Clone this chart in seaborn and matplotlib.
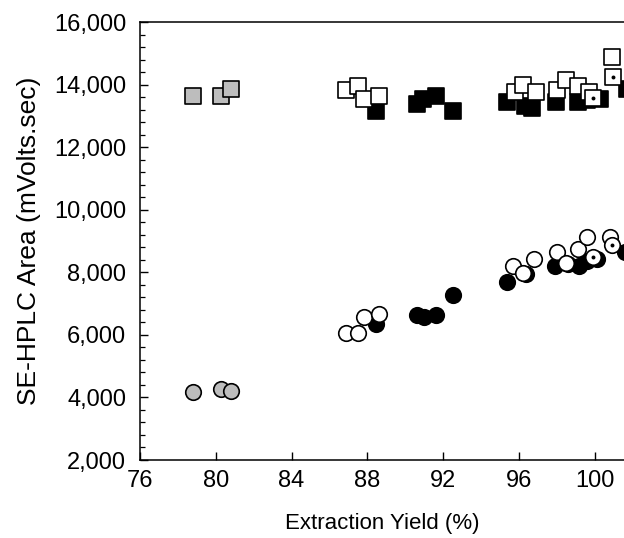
import matplotlib
matplotlib.use("Agg")
import matplotlib.pyplot as plt
from matplotlib.ticker import MultipleLocator, FuncFormatter
import seaborn as sns
import pandas as pd

# ---- data ----
gray_x = [78.8, 80.3, 80.8]
gray_sq = [13650, 13620, 13860]
gray_ci = [4180, 4270, 4210]

white_sq_x = [86.9, 87.5, 87.8, 88.6, 95.8, 96.2, 96.9, 98.0, 98.5, 99.1, 99.7, 100.9]
white_sq = [13830, 13950, 13540, 13630, 13760, 13990, 13760, 13830, 14150, 13950, 13760, 14880]
white_ci_x = [86.9, 87.5, 87.8, 88.6, 95.7, 96.2, 96.8, 98.0, 98.5, 99.1, 99.6, 100.8]
white_ci = [6070, 6070, 6580, 6680, 8190, 7990, 8410, 8640, 8310, 8730, 9120, 9120]

black_sq_x = [88.45, 90.6, 90.95, 91.6, 92.5, 95.4, 96.3, 96.7, 97.95, 99.1, 99.6, 100.3, 101.7]
black_sq = [13150, 13380, 13540, 13630, 13150, 13440, 13310, 13250, 13440, 13440, 13500, 13540, 13860]
black_ci_x = [88.45, 90.6, 91.0, 91.6, 92.5, 95.4, 96.4, 97.9, 98.6, 99.2, 99.6, 100.1, 101.6]
black_ci = [6360, 6650, 6580, 6620, 7260, 7700, 7930, 8190, 8250, 8190, 8350, 8410, 8640]

dot_sq_x = [99.9, 100.95]
dot_sq = [13560, 14240]
dot_ci_x = [99.9, 100.9]
dot_ci = [8500, 8860]

x_ticks = [76, 80, 84, 88, 92, 96, 100]
y_ticks = [2000, 4000, 6000, 8000, 10000, 12000, 14000, 16000]

sns.set_theme(style="white")
plt.rcParams['font.family'] = ['Liberation Sans', 'DejaVu Sans']

fig = plt.figure(figsize=(6.24, 5.38), dpi=100)
ax = fig.add_axes([140 / 624, 78 / 538, 1 - 140 / 624, 438 / 538])

S = 125
LW = 1.2

def draw(xs, ys, marker, face, zorder):
    df = pd.DataFrame({"x": xs, "y": ys})
    sns.scatterplot(data=df, x="x", y="y", ax=ax, marker=marker, s=S,
                    color=face, edgecolor="black", linewidth=LW, zorder=zorder)

draw(black_sq_x, black_sq, "s", "black", 3)
draw(black_ci_x, black_ci, "o", "black", 3)
draw(white_sq_x, white_sq, "s", "white", 4)
draw(white_ci_x, white_ci, "o", "white", 4)
draw(gray_x, gray_sq, "s", "#bdbdbd", 4)
draw(gray_x, gray_ci, "o", "#bdbdbd", 4)
draw(dot_sq_x, dot_sq, "s", "white", 5)
draw(dot_ci_x, dot_ci, "o", "white", 5)
# center dots
sns.scatterplot(x=dot_sq_x + dot_ci_x, y=dot_sq + dot_ci, ax=ax, marker="o", s=8,
                color="black", linewidth=0, zorder=6)

ax.set_xlim(76, 101.55)
ax.set_ylim(2000, 16000)
ax.set_xticks(x_ticks)
ax.set_yticks(y_ticks)
ax.yaxis.set_minor_locator(MultipleLocator(400))
ax.yaxis.set_major_formatter(FuncFormatter(lambda v, p: f"{int(v):,}"))

for side in ["left", "bottom", "top"]:
    ax.spines[side].set_visible(True)
    ax.spines[side].set_color("black")
    ax.spines[side].set_linewidth(1.1)
ax.spines["right"].set_visible(False)

ax.tick_params(axis="both", which="major", direction="in", length=6, width=1,
               labelsize=17, color="black", labelcolor="black")
ax.tick_params(axis="y", which="major", pad=10, left=True)
ax.tick_params(axis="x", which="major", pad=7, bottom=True)
ax.tick_params(axis="y", which="minor", direction="in", length=3.5, width=0.9,
               left=True, color="black")

ax.set_xlabel("Extraction Yield (%)", fontsize=16, labelpad=15, color="black")
ax.set_ylabel("SE-HPLC Area (mVolts.sec)", fontsize=19, labelpad=9, color="black")
ax.grid(False)

fig.savefig("out.png", dpi=100)
